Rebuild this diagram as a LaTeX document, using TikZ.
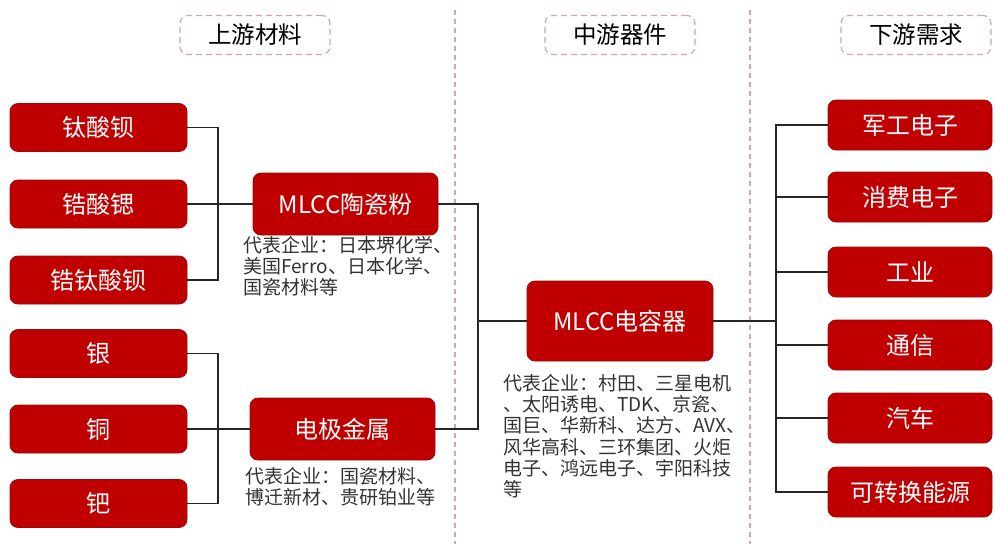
\documentclass[tikz,border=0pt]{standalone}
\usepackage{fontspec}
\setmainfont{Noto Sans CJK SC}
\definecolor{boxred}{HTML}{C00000}
\definecolor{boxedge}{HTML}{9A0A0A}
\definecolor{dashpink}{HTML}{D9A3AA}
\definecolor{txtgray}{HTML}{333333}
\definecolor{linegray}{HTML}{262626}
\tikzset{
  redbox/.style={draw=boxedge, fill=boxred, line width=0.8pt, rounded corners=8pt,
    text=white, font=\fontsize{24}{28}\selectfont, inner sep=0pt, anchor=center},
  leftbox/.style={redbox, minimum width=177pt, minimum height=48pt},
  rightbox/.style={redbox, minimum width=164pt, minimum height=50pt},
  midbox/.style={redbox, minimum width=185pt, minimum height=62pt},
  headbox/.style={draw=dashpink, dashed, dash pattern=on 6pt off 4pt, line width=1.2pt,
    rounded corners=8pt, text=black, font=\fontsize{23.5}{28}\selectfont,
    minimum width=150pt, minimum height=39pt, inner sep=0pt, anchor=center},
  sep/.style={draw=dashpink, dash pattern=on 5pt off 4pt, line width=1.2pt},
  conn/.style={draw=linegray, line width=1.3pt},
  note/.style={text=txtgray, font=\fontsize{19}{21.3}\selectfont, align=left,
    anchor=north west, inner sep=0pt}
}
\begin{document}
\begin{tikzpicture}[x=1pt,y=1pt]
\useasboundingbox (0,0) rectangle (995,-544);
% separators
\coordinate (s1t) at (455,-10); \coordinate (s1b) at (455,-544);
\coordinate (s2t) at (750,-10); \coordinate (s2b) at (750,-544);
\draw[sep] (s1t) -- (s1b);
\draw[sep] (s2t) -- (s2b);
% headers
\node[headbox] (h1) at (255,-35) {上游材料};
\node[headbox] (h2) at (620,-35) {中游器件};
\node[headbox] (h3) at (916,-35) {下游需求};
% left boxes
\node[leftbox] (tsb) at (98.5,-127.5) {钛酸钡};
\node[leftbox] (zss) at (98.5,-204) {锆酸锶};
\node[leftbox] (ztsb) at (98.5,-280) {锆钛酸钡};
\node[leftbox] (yin) at (98.5,-353.5) {银};
\node[leftbox] (tong) at (98.5,-429) {铜};
\node[leftbox] (ba) at (98.5,-503.5) {钯};
% middle-left boxes
\node[midbox] (tc) at (345.5,-204) {MLCC陶瓷粉};
\node[midbox] (dj) at (342.5,-429) {电极金属};
\node[note] (tcn) at (243,-236) {代表企业：日本堺化学、\\美国Ferro、日本化学、\\国瓷材料等};
\node[note] (djn) at (245,-467) {代表企业：国瓷材料、\\博迁新材、贵研铂业等};
% center box
\node[redbox, minimum width=186pt, minimum height=80pt] (dr) at (620,-321) {MLCC电容器};
\node[note] (drn) at (503,-374) {代表企业：村田、三星电机\\、太阳诱电、TDK、京瓷、\\国巨、华新科、达方、AVX、\\风华高科、三环集团、火炬\\电子、鸿远电子、宇阳科技\\等};
% right boxes
\node[rightbox] (jg) at (910,-125) {军工电子};
\node[rightbox] (xf) at (910,-197) {消费电子};
\node[rightbox] (gy) at (910,-272) {工业};
\node[rightbox] (tx) at (910,-345) {通信};
\node[rightbox] (qc) at (910,-418) {汽车};
\node[rightbox] (kz) at (910,-492) {可转换能源};
% connectors left
\coordinate (lb1) at (218,-204);
\coordinate (lb2) at (218,-429);
\draw[conn] (tsb.east) -| (lb1) |- (ztsb.east);
\draw[conn] (zss.east) -- (tc.west);
\draw[conn] (yin.east) -| (lb2) |- (ba.east);
\draw[conn] (tong.east) -- (dj.west);
% connectors middle
\coordinate (mb) at (478,-321);
\draw[conn] (tc.east) -| (mb) |- (dj.east);
\draw[conn] (mb) -- (dr.west);
% connectors right
\coordinate (rb) at (776,-321);
\draw[conn] (dr.east) -- (rb);
\draw[conn] (jg.west) -| (rb) |- (kz.west);
\draw[conn] (xf.west) -- (xf.west -| rb);
\draw[conn] (gy.west) -- (gy.west -| rb);
\draw[conn] (tx.west) -- (tx.west -| rb);
\draw[conn] (qc.west) -- (qc.west -| rb);
\end{tikzpicture}
\end{document}
